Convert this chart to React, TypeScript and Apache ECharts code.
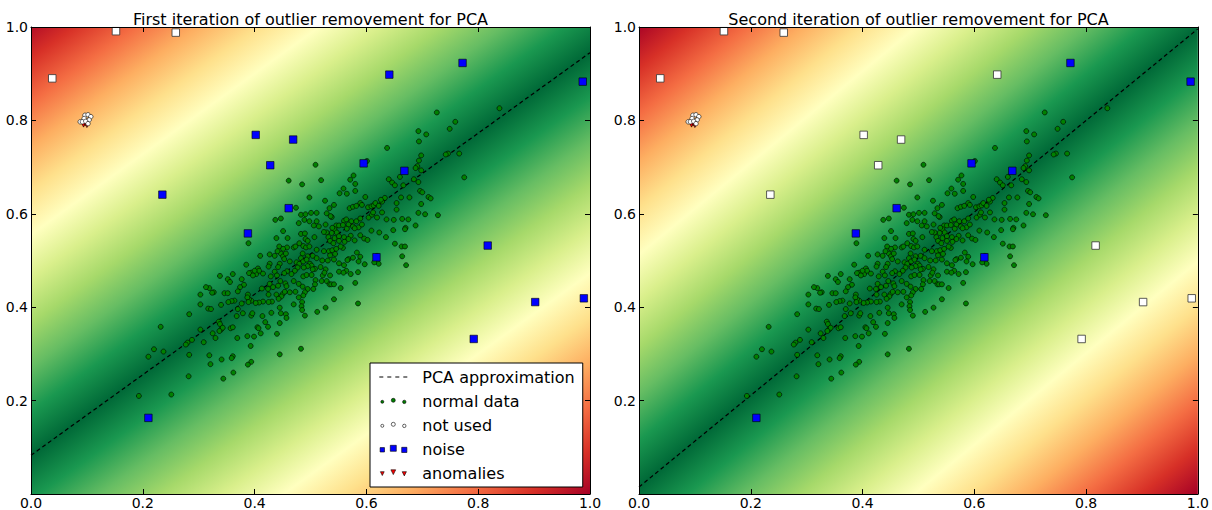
import React, { useEffect, useRef } from "react";
import * as echarts from "echarts";

const titles = [
  "First iteration of outlier removement for PCA",
  "Second iteration of outlier removement for PCA",
];
const legendNames = ["PCA approximation", "normal data", "not used", "noise", "anomalies"];

const pcaLine1: number[][] = [[0, 0.083], [1, 0.945]];
const pcaLine2: number[][] = [[0, 0.015], [1, 0.996]];

const normalData: number[][] = [
  [0.693,0.777],[0.707,0.770],[0.694,0.755],[0.637,0.741],[0.698,0.725],[0.746,0.729],[0.742,0.727],[0.766,0.729],
  [0.509,0.705],[0.601,0.713],[0.694,0.714],[0.691,0.702],[0.688,0.698],[0.698,0.693],[0.685,0.674],[0.693,0.668],
  [0.640,0.674],[0.646,0.667],[0.651,0.661],[0.660,0.679],[0.666,0.661],[0.577,0.682],[0.571,0.673],[0.580,0.664],
  [0.461,0.671],[0.485,0.663],[0.519,0.672],[0.775,0.678],[0.559,0.654],[0.552,0.644],[0.565,0.643],[0.580,0.649],
  [0.498,0.635],[0.526,0.628],[0.598,0.636],[0.633,0.634],[0.628,0.626],[0.662,0.635],[0.677,0.635],[0.696,0.649],
  [0.700,0.646],[0.711,0.636],[0.715,0.633],[0.542,0.619],[0.534,0.612],[0.570,0.612],[0.576,0.615],[0.582,0.617],
  [0.589,0.623],[0.592,0.619],[0.603,0.614],[0.609,0.616],[0.613,0.618],[0.616,0.623],[0.622,0.617],[0.626,0.630],
  [0.654,0.623],[0.698,0.621],[0.654,0.609],[0.474,0.613],[0.483,0.598],[0.491,0.599],[0.501,0.602],[0.511,0.602],
  [0.529,0.601],[0.538,0.593],[0.489,0.587],[0.498,0.584],[0.511,0.584],[0.536,0.595],[0.560,0.585],[0.564,0.588],
  [0.573,0.584],[0.582,0.584],[0.589,0.590],[0.604,0.592],[0.610,0.598],[0.612,0.603],[0.619,0.592],[0.628,0.603],
  [0.636,0.588],[0.649,0.587],[0.664,0.589],[0.675,0.588],[0.693,0.602],[0.705,0.599],[0.728,0.597],[0.437,0.587],
  [0.447,0.590],[0.479,0.580],[0.506,0.575],[0.515,0.573],[0.527,0.577],[0.546,0.575],[0.543,0.567],[0.551,0.575],
  [0.558,0.576],[0.568,0.577],[0.576,0.573],[0.586,0.571],[0.592,0.577],[0.565,0.568],[0.579,0.569],[0.670,0.570],
  [0.669,0.567],[0.688,0.575],[0.451,0.563],[0.483,0.557],[0.490,0.558],[0.539,0.570],[0.547,0.560],[0.538,0.559],
  [0.529,0.560],[0.524,0.561],[0.532,0.550],[0.543,0.548],[0.551,0.552],[0.560,0.550],[0.572,0.553],[0.589,0.554],
  [0.596,0.547],[0.602,0.544],[0.609,0.564],[0.623,0.560],[0.635,0.550],[0.648,0.565],[0.439,0.548],[0.459,0.548],
  [0.491,0.546],[0.495,0.542],[0.507,0.550],[0.535,0.542],[0.541,0.537],[0.551,0.542],[0.558,0.527],[0.561,0.540],
  [0.568,0.546],[0.579,0.543],[0.651,0.536],[0.663,0.530],[0.669,0.530],[0.444,0.530],[0.458,0.528],[0.470,0.528],
  [0.473,0.530],[0.480,0.537],[0.487,0.531],[0.492,0.528],[0.498,0.530],[0.451,0.525],[0.447,0.515],[0.441,0.520],
  [0.427,0.513],[0.436,0.510],[0.451,0.509],[0.456,0.515],[0.486,0.515],[0.495,0.509],[0.504,0.510],[0.511,0.523],
  [0.524,0.520],[0.533,0.520],[0.539,0.522],[0.535,0.511],[0.546,0.525],[0.554,0.530],[0.544,0.514],[0.568,0.503],
  [0.566,0.501],[0.576,0.506],[0.583,0.517],[0.589,0.508],[0.619,0.510],[0.622,0.493],[0.614,0.496],[0.664,0.509],
  [0.671,0.490],[0.597,0.492],[0.586,0.498],[0.410,0.510],[0.427,0.493],[0.445,0.493],[0.453,0.503],[0.463,0.498],
  [0.475,0.496],[0.480,0.493],[0.483,0.505],[0.487,0.498],[0.493,0.502],[0.499,0.493],[0.502,0.489],[0.511,0.505],
  [0.521,0.500],[0.531,0.500],[0.542,0.502],[0.551,0.494],[0.560,0.490],[0.564,0.478],[0.551,0.476],[0.559,0.474],
  [0.572,0.471],[0.580,0.452],[0.585,0.475],[0.527,0.481],[0.518,0.486],[0.508,0.482],[0.495,0.488],[0.488,0.485],
  [0.477,0.485],[0.472,0.478],[0.466,0.471],[0.458,0.477],[0.453,0.473],[0.442,0.486],[0.436,0.476],[0.425,0.487],
  [0.406,0.483],[0.394,0.474],[0.390,0.473],[0.385,0.491],[0.403,0.471],[0.415,0.472],[0.408,0.478],[0.400,0.478],
  [0.397,0.468],[0.361,0.471],[0.338,0.467],[0.352,0.460],[0.356,0.454],[0.377,0.460],[0.440,0.468],[0.446,0.456],
  [0.455,0.451],[0.429,0.466],[0.427,0.450],[0.433,0.443],[0.442,0.446],[0.424,0.439],[0.413,0.440],[0.425,0.427],
  [0.439,0.427],[0.450,0.428],[0.457,0.445],[0.470,0.456],[0.479,0.450],[0.486,0.444],[0.487,0.466],[0.493,0.469],
  [0.502,0.469],[0.504,0.481],[0.509,0.458],[0.508,0.449],[0.520,0.456],[0.522,0.468],[0.525,0.474],[0.535,0.468],
  [0.529,0.456],[0.534,0.449],[0.537,0.449],[0.542,0.449],[0.554,0.441],[0.542,0.417],[0.505,0.439],[0.495,0.439],
  [0.490,0.432],[0.487,0.425],[0.479,0.421],[0.473,0.433],[0.463,0.432],[0.454,0.433],[0.448,0.423],[0.443,0.418],
  [0.431,0.412],[0.425,0.411],[0.415,0.412],[0.408,0.410],[0.402,0.409],[0.394,0.414],[0.388,0.427],[0.390,0.417],
  [0.381,0.448],[0.374,0.443],[0.370,0.434],[0.346,0.430],[0.352,0.430],[0.327,0.432],[0.324,0.431],[0.319,0.441],
  [0.313,0.443],[0.303,0.427],[0.317,0.397],[0.322,0.396],[0.340,0.405],[0.364,0.414],[0.359,0.413],[0.353,0.411],
  [0.370,0.396],[0.377,0.408],[0.387,0.421],[0.389,0.411],[0.379,0.387],[0.368,0.381],[0.394,0.382],[0.396,0.387],
  [0.414,0.381],[0.430,0.388],[0.445,0.399],[0.447,0.387],[0.456,0.385],[0.457,0.377],[0.470,0.406],[0.485,0.411],
  [0.484,0.402],[0.485,0.394],[0.490,0.382],[0.512,0.390],[0.527,0.399],[0.585,0.408],[0.483,0.311],[0.445,0.299],
  [0.394,0.283],[0.388,0.277],[0.361,0.295],[0.359,0.291],[0.341,0.288],[0.319,0.297],[0.321,0.278],[0.283,0.298],
  [0.280,0.324],[0.237,0.305],[0.220,0.310],[0.232,0.358],[0.283,0.385],[0.303,0.352],[0.303,0.406],[0.309,0.325],
  [0.336,0.369],[0.338,0.364],[0.340,0.352],[0.343,0.356],[0.357,0.355],[0.361,0.357],[0.369,0.334],[0.387,0.338],
  [0.393,0.317],[0.399,0.337],[0.405,0.357],[0.407,0.355],[0.411,0.344],[0.419,0.368],[0.424,0.358],[0.440,0.343],
  [0.445,0.366],[0.288,0.330],[0.277,0.320],[0.330,0.334],[0.325,0.344],[0.337,0.349],[0.389,0.537],
  [0.838,0.826],[0.726,0.817],[0.759,0.797],[0.749,0.782],[0.193,0.210],[0.251,0.213],[0.282,0.252],[0.344,0.247],
  [0.362,0.260],[0.210,0.294],
];

const notUsedPoints: number[][] = [
  [0.0965,0.811],[0.102,0.812],[0.107,0.808],[0.095,0.804],[0.104,0.801],[0.088,0.797],[0.092,0.797],[0.098,0.798],[0.102,0.793],
];
const anomalies: number[][] = [[0.094,0.792],[0.100,0.791],[0.097,0.795]];

const noise1: number[][] = [
  [0.210,0.163],[0.235,0.641],[0.388,0.558],[0.402,0.769],[0.428,0.704],[0.461,0.612],[0.469,0.759],[0.595,0.708],
  [0.618,0.507],[0.641,0.898],[0.668,0.692],[0.772,0.923],[0.792,0.332],[0.817,0.532],[0.902,0.411],[0.989,0.419],[0.987,0.883],
];
const unusedNoise1: number[][] = [[0.038,0.890],[0.152,0.991],[0.259,0.988]];
const noise2: number[][] = [
  [0.210,0.163],[0.388,0.558],[0.461,0.612],[0.595,0.708],[0.618,0.507],[0.668,0.692],[0.772,0.923],[0.987,0.883],
];
const unusedNoise2: number[][] = [
  [0.038,0.890],[0.152,0.991],[0.259,0.988],[0.235,0.641],[0.402,0.769],[0.428,0.704],[0.469,0.759],[0.641,0.898],
  [0.817,0.532],[0.792,0.332],[0.902,0.411],[0.989,0.419],
];

const rdYlGnR = [
  "#006837", "#1a9850", "#66bd63", "#a6d96a", "#d9ef8b", "#ffffbf",
  "#fee08b", "#fdae61", "#f46d43", "#d73027", "#a50026",
];

const FONT = "DejaVu Sans";

function circlePath(cx: number, cy: number, r: number) {
  return `M${cx - r},${cy}a${r},${r} 0 1,0 ${2 * r},0a${r},${r} 0 1,0 ${-2 * r},0z`;
}
function squarePath(cx: number, cy: number, h: number) {
  return `M${cx - h},${cy - h}L${cx + h},${cy - h}L${cx + h},${cy + h}L${cx - h},${cy + h}z`;
}
function triPath(cx: number, cy: number, h: number) {
  return `M${cx - h},${cy - h}L${cx + h},${cy - h}L${cx},${cy + h}z`;
}
// icon frame is 39 x 14: the marks sit in the left 30 px, the rest is the gap before the text
const frame = "M0,0M39,14";
const dashIcon = "path://" + frame + "M1,6.5h4v1H1zM9,6.5h4v1H9zM17,6.5h4v1H17zM25,6.5h4v1H25z";
const dotsIcon = "path://" + frame + circlePath(4, 7.8, 1.5) + circlePath(15, 6.3, 2.0) + circlePath(26, 7.9, 1.7);
const squaresIcon = "path://" + frame + squarePath(4, 7.8, 2.2) + squarePath(15, 6.3, 3.0) + squarePath(26, 7.9, 2.6);
const trisIcon = "path://" + frame + triPath(4, 7.6, 1.9) + triPath(15, 6.2, 2.4) + triPath(26, 7.8, 2.1);

function background(line: number[][], idx: number) {
  return {
    type: "custom",
    xAxisIndex: idx * 2,
    yAxisIndex: idx * 2,
    z: 1,
    silent: true,
    data: [[0.5, 0.5]],
    renderItem: (_p: any, api: any) => {
      const tl = api.coord([0, 1]);
      const tr = api.coord([1, 1]);
      const bl = api.coord([0, 0]);
      const br = api.coord([1, 0]);
      const A = api.coord(line[0]);
      const B = api.coord(line[1]);
      let dx = B[0] - A[0];
      let dy = B[1] - A[1];
      const len = Math.hypot(dx, dy);
      dx /= len;
      dy /= len;
      const nx = -dy;
      const ny = dx;
      let D = 0;
      for (const c of [tl, tr, bl, br]) {
        D = Math.max(D, Math.abs((c[0] - A[0]) * nx + (c[1] - A[1]) * ny));
      }
      const stops: any[] = [];
      for (let i = 10; i >= 0; i--) stops.push({ offset: 0.5 - i * 0.05, color: rdYlGnR[i] });
      for (let i = 1; i <= 10; i++) stops.push({ offset: 0.5 + i * 0.05, color: rdYlGnR[i] });
      return {
        type: "rect",
        shape: { x: tl[0], y: tl[1], width: br[0] - tl[0], height: br[1] - tl[1] },
        style: {
          fill: new echarts.graphic.LinearGradient(
            A[0] - nx * D, A[1] - ny * D, A[0] + nx * D, A[1] + ny * D, stops, true
          ),
        },
      };
    },
  };
}

function panelSeries(idx: number, line: number[][], noise: number[][], unused: number[][]) {
  const ax = { xAxisIndex: idx * 2, yAxisIndex: idx * 2 };
  return [
    background(line, idx),
    {
      type: "line", name: legendNames[0], ...ax, data: line, z: 3, symbol: "none",
      color: "#000",
      itemStyle: { color: "#000" },
      lineStyle: { color: "#000", width: 1.2, type: [4, 3] },
    },
    {
      type: "scatter", name: legendNames[1], ...ax, data: normalData, z: 4, symbol: "circle", symbolSize: 5,
      itemStyle: { color: "#008000", borderColor: "#000", borderWidth: 0.6, opacity: 1 },
    },
    {
      type: "scatter", name: legendNames[4], ...ax, data: anomalies, z: 4, symbol: "triangle",
      symbolRotate: 180, symbolSize: 6,
      itemStyle: { color: "#ff0000", borderColor: "#000", borderWidth: 0.6, opacity: 1 },
    },
    {
      type: "scatter", name: legendNames[2], ...ax, data: notUsedPoints, z: 5, symbol: "circle", symbolSize: 4.5,
      itemStyle: { color: "#ffffff", borderColor: "#000", borderWidth: 0.6, opacity: 1 },
    },
    {
      type: "scatter", name: "unused noise", ...ax, data: unused, z: 5, symbol: "rect", symbolSize: 7.5,
      itemStyle: { color: "#ffffff", borderColor: "#333", borderWidth: 0.8, opacity: 1 },
    },
    {
      type: "scatter", name: legendNames[3], ...ax, data: noise, z: 5, symbol: "rect", symbolSize: 7.5,
      itemStyle: { color: "#0000ff", borderColor: "#000", borderWidth: 0.6, opacity: 1 },
    },
  ];
}

function axes(idx: number) {
  const common = {
    type: "value", min: 0, max: 1, interval: 0.2, gridIndex: idx, z: 10,
    splitLine: { show: false },
    axisLine: { show: true, onZero: false, lineStyle: { color: "#000", width: 1 } },
    axisTick: { show: true, inside: true, length: 5, lineStyle: { color: "#000", width: 1 } },
  };
  const label = {
    color: "#000", fontSize: 14, fontFamily: FONT, showMinLabel: true, showMaxLabel: true,
  };
  const x = [
    { ...common, position: "bottom", axisLabel: { ...label, margin: 2, formatter: (v: number) => v.toFixed(1) } },
    { ...common, position: "top", axisLabel: { show: false } },
  ];
  const y = [
    { ...common, position: "left", axisLabel: { ...label, margin: 3, formatter: (v: number) => (v === 0 ? "" : v.toFixed(1)) } },
    { ...common, position: "right", axisLabel: { show: false } },
  ];
  return { x, y };
}

const legendText = { fontSize: 16, fontFamily: FONT, color: "#000" };

export default function App() {
  const ref = useRef<HTMLDivElement>(null);
  useEffect(() => {
    document.body.style.margin = "0";
    if (!ref.current) return;
    const chart = echarts.init(ref.current, null, { renderer: "svg" });
    const a0 = axes(0);
    const a1 = axes(1);
    chart.setOption({
      animation: false,
      backgroundColor: "#ffffff",
      textStyle: { fontFamily: FONT },
      title: [
        {
          text: titles[0], left: 310.5, top: 11, textAlign: "center", padding: 0,
          textStyle: { fontSize: 16, fontWeight: "normal", fontFamily: FONT, color: "#000" },
        },
        {
          text: titles[1], left: 918.5, top: 11, textAlign: "center", padding: 0,
          textStyle: { fontSize: 16, fontWeight: "normal", fontFamily: FONT, color: "#000" },
        },
      ],
      grid: [
        { left: 31, top: 27, width: 559, height: 468 },
        { left: 639, top: 27, width: 559, height: 468 },
      ],
      xAxis: [...a0.x, ...a1.x],
      yAxis: [...a0.y, ...a1.y],
      legend: {
        orient: "vertical",
        left: 370,
        top: 363,
        padding: [6, 8, 6, 8],
        itemGap: 8,
        itemWidth: 39,
        itemHeight: 14,
        backgroundColor: "#ffffff",
        borderColor: "#000",
        borderWidth: 1,
        borderRadius: 0,
        selectedMode: false,
        z: 20,
        itemStyle: { borderWidth: 0.6 },
        textStyle: legendText,
        data: [
          { name: legendNames[0], icon: dashIcon, textStyle: legendText, itemStyle: { borderWidth: 0 } },
          { name: legendNames[1], icon: dotsIcon, textStyle: legendText },
          { name: legendNames[2], icon: dotsIcon, textStyle: legendText },
          { name: legendNames[3], icon: squaresIcon, textStyle: legendText },
          { name: legendNames[4], icon: trisIcon, textStyle: legendText },
        ],
      },
      series: [
        ...panelSeries(0, pcaLine1, noise1, unusedNoise1),
        ...panelSeries(1, pcaLine2, noise2, unusedNoise2),
      ],
    });
    return () => chart.dispose();
  }, []);
  return <div ref={ref} style={{ width: 1212, height: 510 }} />;
}
